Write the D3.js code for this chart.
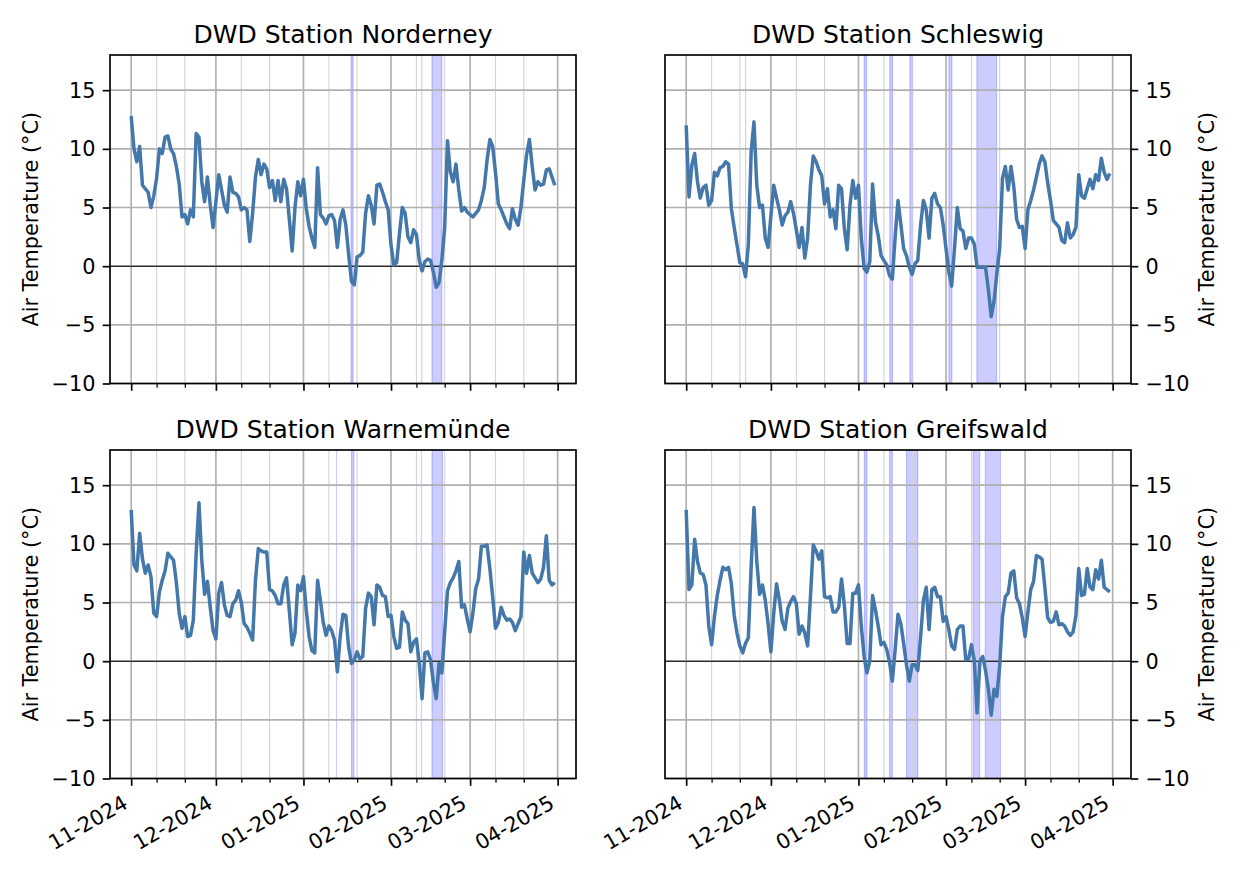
<!DOCTYPE html>
<html><head><meta charset="utf-8">
<script src="https://cdn.jsdelivr.net/npm/d3@7"></script>
<style>
body{margin:0;background:#fff}
svg{display:block}
text{font-family:"DejaVu Sans",sans-serif;fill:#000}
</style>
</head><body>
<svg id="chart" width="1240" height="877"></svg>
<script>
// ---------------- data ----------------
const startDate = "2024-11-01";
const stationTitles = ["DWD Station Norderney", "DWD Station Schleswig", "DWD Station Warnemünde", "DWD Station Greifswald"];
const yLabel = "Air Temperature (°C)";

const norderney = [12.8,10.0,8.9,10.2,6.9,6.6,6.3,5.0,6.0,7.5,
 10.0,9.6,11.0,11.1,10.0,9.6,8.5,7.0,4.2,4.4,
 3.6,4.8,4.2,11.3,11.0,7.2,5.5,7.6,5.2,3.3,
 5.5,7.8,6.5,5.2,4.6,7.6,6.3,6.2,5.9,4.8,
 5.0,4.8,2.1,4.5,7.6,9.1,7.8,8.7,8.3,6.7,
 7.3,5.6,7.3,5.5,7.4,6.6,4.0,1.3,5.0,7.2,
 6.0,7.4,4.9,3.4,2.4,1.6,8.4,4.4,4.1,3.6,
 4.3,4.4,3.9,1.6,4.0,4.8,3.5,1.0,-1.3,-1.6,
 0.8,0.9,1.2,4.5,6.0,5.2,3.6,6.9,7.0,6.3,
 5.5,4.8,1.8,0.1,0.3,2.8,5.0,4.5,2.5,2.0,
 3.1,2.7,0.5,-0.4,0.4,0.6,0.5,-0.5,-1.8,-1.4,
 0.5,3.3,10.7,8.0,7.2,8.7,6.5,4.7,5.0,4.6,
 4.4,4.2,4.5,4.8,5.6,6.7,9.0,10.8,10.2,8.0,
 5.3,4.8,4.2,3.6,3.2,4.9,4.0,3.5,5.0,7.3,
 9.5,10.8,8.5,6.5,7.2,6.9,7.0,8.2,8.3,7.6,
 6.9];

const schleswig = [12.0,5.9,8.6,9.6,7.2,5.8,6.7,6.9,5.2,5.6,
 8.0,7.7,8.4,8.5,8.9,8.7,4.9,3.3,1.8,0.3,
 0.2,-0.9,1.8,9.7,12.3,6.9,5.0,5.2,2.4,1.6,
 4.3,6.9,5.8,4.8,3.5,4.3,4.6,5.5,4.5,3.1,
 1.6,3.3,0.7,2.4,6.9,9.4,8.9,8.2,7.7,5.3,
 6.6,4.2,4.8,3.2,6.9,6.6,3.2,1.4,5.2,7.3,
 5.8,6.9,2.4,-0.2,-0.5,0.4,7.0,3.8,2.6,0.9,
 0.5,0.1,-0.8,-1.1,2.5,5.6,3.6,1.5,0.9,-0.1,
 -0.7,0.2,0.5,3.5,5.6,4.8,2.4,5.8,6.2,5.3,
 5.0,3.5,1.5,-0.5,-1.7,1.5,5.0,3.2,3.0,1.5,
 2.4,2.4,1.9,-0.1,-0.1,-0.1,-0.1,-2.0,-4.3,-3.0,
 -0.6,1.5,7.5,8.5,6.5,8.5,6.8,4.0,3.3,3.4,
 1.5,4.8,5.6,6.5,7.6,8.7,9.4,8.9,7.1,5.6,
 3.9,3.6,3.3,2.2,2.0,3.7,2.4,2.7,3.3,7.8,
 6.0,5.8,6.6,7.4,6.6,7.8,7.3,9.2,8.0,7.4,
 7.9];

const warnemuende = [12.9,8.2,7.7,10.9,8.7,7.5,8.2,7.2,4.1,3.8,
 5.9,6.9,7.7,9.2,8.9,8.6,6.7,4.1,2.8,3.8,
 2.1,2.2,3.5,9.2,13.5,8.6,5.7,6.8,4.6,2.6,
 1.9,5.8,6.7,4.8,3.9,3.8,4.9,5.2,6.0,5.0,
 3.2,2.9,2.4,1.8,6.9,9.6,9.4,9.3,9.3,6.1,
 6.0,5.6,4.9,4.9,6.5,7.1,4.3,1.4,2.4,6.5,
 6.0,7.2,4.3,2.1,0.9,0.7,6.9,5.2,3.3,2.2,
 3.0,2.6,1.8,-0.9,2.1,4.0,3.9,1.2,-0.2,0.1,
 0.8,0.2,0.4,4.5,5.8,5.5,3.1,6.5,6.3,5.6,
 5.5,3.8,3.9,2.1,1.1,1.2,4.2,3.5,3.2,0.8,
 1.6,1.9,-0.2,-3.2,0.7,0.8,0.1,-1.8,-3.2,-0.2,
 -1.0,2.5,6.0,6.7,7.1,7.7,8.5,4.6,4.8,3.6,
 2.5,4.1,6.2,7.0,9.8,9.8,9.9,7.9,5.5,2.8,
 3.3,4.6,3.9,3.5,3.6,3.3,2.6,3.2,3.8,9.3,
 7.5,9.0,7.5,7.1,6.7,7.0,8.0,10.7,6.9,6.5,
 6.7];

const greifswald = [12.9,6.1,6.5,10.4,8.5,7.5,7.4,6.5,3.0,1.4,
 3.8,5.6,6.9,8.0,7.8,8.0,6.6,3.9,2.4,1.3,
 0.7,1.5,2.0,8.0,13.1,8.5,5.7,6.5,5.2,3.2,
 0.8,4.1,6.6,5.2,3.4,2.7,4.5,5.1,5.5,4.9,
 2.3,3.0,2.4,1.3,5.5,9.9,9.4,8.7,9.4,5.5,
 5.4,5.5,4.2,4.2,4.6,7.0,4.8,1.5,1.5,5.8,
 5.8,6.5,3.0,0.4,-1.0,0.0,5.6,4.4,3.0,1.4,
 1.6,1.0,-0.1,-1.7,1.0,4.0,3.2,1.5,-0.3,-1.7,
 -0.3,-0.3,-0.8,2.1,5.2,6.3,2.7,6.1,6.3,5.5,
 5.5,3.4,3.8,2.7,1.3,1.0,2.7,3.0,3.0,0.1,
 0.2,1.4,0.1,-4.4,0.0,0.4,-0.8,-2.4,-4.6,-2.4,
 -3.0,-0.4,3.8,5.5,5.8,7.5,7.7,5.4,4.9,3.7,
 2.1,4.2,6.1,6.8,9.0,8.9,8.7,6.3,3.7,3.3,
 3.4,4.2,3.1,3.2,3.0,2.5,2.2,2.5,3.9,7.9,
 5.6,5.7,7.9,6.3,6.1,7.8,7.0,8.6,6.3,6.1,
 5.9];

// shaded periods [start, end]
const spansNorderney = [["2025-01-17T20:00","2025-01-18T14:00"],["2025-02-11T21:00","2025-02-11T21:00"],["2025-02-15T12:00","2025-02-19T00:00"]];
const spansSchleswig = [["2024-11-22T01:00","2024-11-22T01:00"],["2025-01-03T00:00","2025-01-03T21:00"],["2025-01-12T02:00","2025-01-13T02:00"],["2025-01-19T05:00","2025-01-20T05:00"],["2025-02-02T00:00","2025-02-03T02:00"],["2025-02-11T22:00","2025-02-18T22:00"]];
const spansWarnemuende = [["2025-01-12T17:00","2025-01-12T17:00"],["2025-01-18T00:00","2025-01-18T21:00"],["2025-02-11T19:00","2025-02-11T19:00"],["2025-02-15T12:00","2025-02-19T05:00"]];
const spansGreifswald = [["2025-01-03T02:00","2025-01-04T00:00"],["2025-01-12T00:00","2025-01-13T00:00"],["2025-01-18T00:00","2025-01-22T00:00"],["2025-02-10T14:00","2025-02-12T22:00"],["2025-02-14T22:00","2025-02-20T07:00"]];

const monthTicks = ["2024-11-01","2024-12-01","2025-01-01","2025-02-01","2025-03-01","2025-04-01"];
const minorTicks = ["2024-11-10","2024-11-20","2024-12-10","2024-12-20","2025-01-10","2025-01-20","2025-02-10","2025-02-20","2025-03-10","2025-03-20"];
const yTicks = [-10,-5,0,5,10,15];
const yDomain = [-10, 18];
const xDomain = ["2024-10-24T12:00","2025-04-07T12:00"];

// ---------------- drawing ----------------
const parseT = s => new Date(s.length === 10 ? s + "T00:00:00Z" : s + ":00Z");
const start = parseT(startDate);

const panels = [
  {title: stationTitles[0], values: norderney,   spans: spansNorderney,   col: 0, row: 0},
  {title: stationTitles[1], values: schleswig,   spans: spansSchleswig,   col: 1, row: 0},
  {title: stationTitles[2], values: warnemuende, spans: spansWarnemuende, col: 0, row: 1},
  {title: stationTitles[3], values: greifswald,  spans: spansGreifswald,  col: 1, row: 1}
];
const colX = [[110, 576], [665, 1131]];
const rowY = [[383.5, 55], [778.5, 450]];

const FS = 20.8, MAJ = 7.3, MIN = 4.2, PAD = 7.3;
const svg = d3.select("#chart");
const fmtY = d => d < 0 ? "\u2212" + Math.abs(d) : String(d);
const fmtX = d3.utcFormat("%m-%Y");

panels.forEach(p => {
  const x = d3.scaleUtc().domain(xDomain.map(parseT)).range(colX[p.col]);
  const y = d3.scaleLinear().domain(yDomain).range(rowY[p.row]);
  const [x0, x1] = x.range();
  const yb = y(yDomain[0]), yt = y(yDomain[1]);
  const g = svg.append("g");

  // spans
  g.append("g").selectAll("path").data(p.spans).join("path")
    .attr("d", s => {
      const a = x(parseT(s[0])), b = x(parseT(s[1]));
      return `M${a},${yt}H${b}V${yb}H${a}Z`;
    })
    .attr("fill", "blue").attr("fill-opacity", 0.2)
    .attr("stroke", "blue").attr("stroke-opacity", 0.2).attr("stroke-width", 1.2);

  // minor x grid
  g.append("g").selectAll("line").data(minorTicks.map(parseT)).join("line")
    .attr("x1", d => x(d)).attr("x2", d => x(d)).attr("y1", yt).attr("y2", yb)
    .attr("stroke", "#d4d4d4").attr("stroke-width", 1.1);
  // major x grid
  g.append("g").selectAll("line").data(monthTicks.map(parseT)).join("line")
    .attr("x1", d => x(d)).attr("x2", d => x(d)).attr("y1", yt).attr("y2", yb)
    .attr("stroke", "#b0b0b0").attr("stroke-width", 1.67);
  // y grid
  g.append("g").selectAll("line").data(yTicks).join("line")
    .attr("x1", x0).attr("x2", x1).attr("y1", d => y(d)).attr("y2", d => y(d))
    .attr("stroke", "#b0b0b0").attr("stroke-width", 1.67);

  // zero line
  g.append("line").attr("x1", x0).attr("x2", x1).attr("y1", y(0)).attr("y2", y(0))
    .attr("stroke", "#000").attr("stroke-width", 1.1);

  // data line
  const pts = p.values.map((v, i) => [d3.utcDay.offset(start, i), v]);
  g.append("path").datum(pts)
    .attr("fill", "none").attr("stroke", "#4477aa").attr("stroke-width", 3.5)
    .attr("stroke-linejoin", "round").attr("stroke-linecap", "butt")
    .attr("d", d3.line().x(d => x(d[0])).y(d => y(d[1])));

  // x axis (minor ticks)
  const xMinor = g.append("g").attr("transform", `translate(0,${yb})`)
    .call(d3.axisBottom(x).tickValues(minorTicks.map(parseT)).tickSizeInner(MIN).tickSizeOuter(0).tickFormat(""));
  xMinor.select(".domain").remove();
  xMinor.selectAll(".tick line").attr("stroke", "#000").attr("stroke-width", 1.25);

  // x axis (major ticks)
  const xMajor = g.append("g").attr("transform", `translate(0,${yb})`)
    .call(d3.axisBottom(x).tickValues(monthTicks.map(parseT)).tickSizeInner(MAJ).tickSizeOuter(0).tickPadding(PAD)
      .tickFormat(p.row === 1 ? fmtX : ""));
  xMajor.select(".domain").remove();
  xMajor.selectAll(".tick line").attr("stroke", "#000").attr("stroke-width", 1.67);
  if (p.row === 1) {
    const tx = -2.5, ty = MAJ + PAD + 14;
    xMajor.selectAll(".tick text")
      .attr("x", tx).attr("y", ty).attr("dy", null)
      .attr("text-anchor", "end")
      .attr("transform", `rotate(-30,${tx},${ty})`)
      .style("font-size", FS + "px").style("font-family", "DejaVu Sans").attr("fill", "#000");
  } else {
    xMajor.selectAll(".tick text").remove();
  }

  // y axis
  const ya = p.col === 0 ? d3.axisLeft(y) : d3.axisRight(y);
  const yG = g.append("g").attr("transform", `translate(${p.col === 0 ? x0 : x1},0)`)
    .call(ya.tickValues(yTicks).tickSizeInner(MAJ).tickSizeOuter(0).tickPadding(PAD).tickFormat(fmtY));
  yG.select(".domain").remove();
  yG.selectAll(".tick line").attr("stroke", "#000").attr("stroke-width", 1.67);
  yG.selectAll(".tick text").attr("dy", "0.34em")
    .style("font-size", FS + "px").style("font-family", "DejaVu Sans").attr("fill", "#000");

  // frame
  g.append("rect").attr("x", x0).attr("y", yt).attr("width", x1 - x0).attr("height", yb - yt)
    .attr("fill", "none").attr("stroke", "#000").attr("stroke-width", 1.67);

  // title
  g.append("text").attr("x", (x0 + x1) / 2).attr("y", yt - 12.5)
    .attr("text-anchor", "middle").style("font-size", "25px").text(p.title);

  // y label
  const ly = (yt + yb) / 2;
  const lx = p.col === 0 ? 38 : 1214;
  g.append("text").attr("x", lx).attr("y", ly)
    .attr("text-anchor", "middle").attr("transform", `rotate(-90,${lx},${ly})`)
    .style("font-size", FS + "px").text(yLabel);
});
</script>
</body></html>
